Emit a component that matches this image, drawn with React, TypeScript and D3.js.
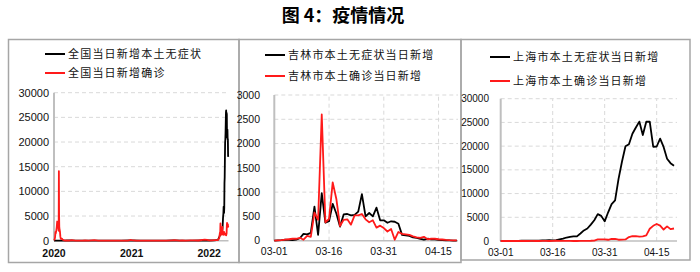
import React from "react";
import * as d3 from "d3";

// ---------- DATA ----------
const title = "图 4：疫情情况";

// Panel 1: national
const natLegend = ["全国当日新增本土无症状", "全国当日新增确诊"];
const natAsymDates = ["2020-01-20","2020-03-01","2020-04-01","2020-05-01","2020-06-15","2020-08-01","2020-10-01","2020-12-01","2021-01-15","2021-03-01","2021-05-01","2021-07-01","2021-08-05","2021-09-15","2021-11-01","2021-12-25","2022-01-20","2022-02-15","2022-03-01","2022-03-05","2022-03-10","2022-03-14","2022-03-18","2022-03-22","2022-03-24","2022-03-26","2022-03-28","2022-03-29","2022-03-31","2022-04-01","2022-04-02","2022-04-03","2022-04-04","2022-04-05","2022-04-06","2022-04-07","2022-04-08","2022-04-09","2022-04-10","2022-04-11","2022-04-12","2022-04-13","2022-04-14","2022-04-15","2022-04-16","2022-04-17","2022-04-18","2022-04-19","2022-04-20"];
const natAsymVals = [0,0,60,20,30,20,20,10,60,10,20,10,40,20,30,60,40,50,150,400,900,1400,2000,2000,2600,4500,5600,6900,5600,6700,11700,12800,16400,19800,20500,21800,23900,26000,26400,23500,25900,25600,20900,22300,22500,20500,20600,17200,17000];
const natConfDates = ["2020-01-20","2020-01-23","2020-01-25","2020-01-27","2020-01-28","2020-01-31","2020-02-02","2020-02-04","2020-02-06","2020-02-08","2020-02-10","2020-02-11","2020-02-12","2020-02-13","2020-02-14","2020-02-17","2020-02-19","2020-02-21","2020-02-26","2020-03-01","2020-03-05","2020-03-10","2020-03-20","2020-04-01","2020-04-12","2020-05-01","2020-06-01","2020-06-14","2020-07-01","2020-07-28","2020-08-15","2020-09-01","2020-10-01","2020-11-01","2020-12-01","2021-01-01","2021-01-13","2021-01-20","2021-02-10","2021-03-01","2021-04-01","2021-05-01","2021-06-01","2021-07-01","2021-07-31","2021-08-10","2021-09-01","2021-09-15","2021-10-01","2021-10-25","2021-11-10","2021-12-01","2021-12-20","2021-12-30","2022-01-10","2022-01-20","2022-02-01","2022-02-15","2022-03-01","2022-03-05","2022-03-08","2022-03-11","2022-03-13","2022-03-14","2022-03-15","2022-03-17","2022-03-19","2022-03-21","2022-03-23","2022-03-25","2022-03-28","2022-03-31","2022-04-02","2022-04-05","2022-04-08","2022-04-10","2022-04-12","2022-04-13","2022-04-14","2022-04-15","2022-04-16","2022-04-18","2022-04-19","2022-04-20"];
const natConfVals = [77,259,688,1771,1459,2102,2829,3887,3143,2656,2478,2015,14108,5090,2641,1886,820,397,433,202,143,24,40,35,108,10,5,50,5,100,20,5,20,30,10,20,140,100,10,5,20,10,20,5,70,100,10,50,10,50,60,40,150,200,150,80,60,120,120,300,450,1500,1800,3500,1800,1200,1600,1300,2800,1300,1200,1800,1400,1200,1400,1100,1500,2900,3600,3500,3300,3300,2800,3000];
const natXTicks = ["2020-01-20", "2021-01-20", "2022-01-20"];
const natXTickLabels = ["2020", "2021", "2022"];
const natYTicks = [0, 5000, 10000, 15000, 20000, 25000, 30000];

// Panels 2 & 3: daily from 03-01 to 04-20 (2022)
const dailyStart = "2022-03-01";
const dailyXTicks = ["2022-03-01", "2022-03-16", "2022-03-31", "2022-04-15"];
const dailyXTickLabels = ["03-01", "03-16", "03-31", "04-15"];

const jlLegend = ["吉林市本土无症状当日新增", "吉林市本土确诊当日新增"];
const jlAsym = [0,5,10,20,15,10,20,50,140,130,160,700,120,980,370,400,760,560,290,540,550,520,530,600,960,500,570,500,680,420,420,370,400,390,350,120,110,100,70,60,40,20,40,30,30,15,10,8,5,3,0];
const jlConf = [0,5,10,20,30,40,40,60,20,100,80,580,430,2600,380,450,1200,860,300,430,440,330,520,520,550,440,380,420,270,310,260,190,240,20,180,140,130,120,90,70,60,80,30,40,40,30,25,15,10,8,5];
const jlYTicks = [0, 500, 1000, 1500, 2000, 2500, 3000];

const shLegend = ["上海市本土无症状当日新增", "上海市本土确诊当日新增"];
const shAsym = [1,3,14,16,28,45,51,62,76,64,78,64,128,130,197,150,203,366,492,734,865,977,979,1580,2231,2631,3450,4381,5656,5298,4144,6051,7788,8581,13086,16766,19982,20398,22609,23937,25173,22348,25141,25146,19872,19923,21582,19831,17332,16407,15861];
const shConf = [1,0,2,3,0,3,4,3,4,11,5,1,41,9,5,8,57,8,17,24,31,4,4,29,38,45,50,96,326,355,358,260,438,425,268,311,322,824,1015,1006,914,994,1189,2573,3200,3590,3238,2417,3084,2494,2634];
const shYTicks = [0, 5000, 10000, 15000, 20000, 25000, 30000];

// ---------- HELPERS ----------
const parse = d3.timeParse("%Y-%m-%d");
const BLACK = "#000000";
const RED = "#ff1a1a";
const GRID = "#d9d9d9";
const AXIS = "#bfbfbf";
const NUMFONT = "'Liberation Sans', Arial, sans-serif";
const CJK = "'Noto Sans CJK SC', sans-serif";

type Pt = { d: Date; v: number };

function dailySeries(vals: number[]): Pt[] {
  const s = parse(dailyStart)!;
  return vals.map((v, i) => ({ d: d3.timeDay.offset(s, i), v }));
}
function pairSeries(dates: string[], vals: number[]): Pt[] {
  return dates.map((d, i) => ({ d: parse(d)!, v: vals[i] }));
}

type PanelProps = {
  x: d3.ScaleTime<number, number>;
  y: d3.ScaleLinear<number, number>;
  yTicks: number[];
  xTicks: string[];
  xTickLabels: string[];
  series: Pt[][];
  legend: string[];
  legendX: number;
  legendY: number[];
  yLabelRight: number;
  xLabelY: number;
  gridRight: number;
  vGrid: boolean;
  fontSize: number;
  xFontSize: number;
  xBold?: boolean;
};

function Panel(p: PanelProps) {
  const line = d3
    .line<Pt>()
    .x((d) => p.x(d.d))
    .y((d) => p.y(d.v));
  const x0 = p.x.range()[0];
  const y0 = p.y(0);
  const yTop = p.y(p.yTicks[p.yTicks.length - 1]);
  return (
    <g>
      {p.yTicks.slice(1).map((t) => (
        <line key={"h" + t} x1={x0} x2={p.gridRight} y1={p.y(t)} y2={p.y(t)} stroke={GRID} strokeWidth={1} strokeDasharray="4,3" />
      ))}
      {p.vGrid &&
        p.xTicks.slice(1).map((t) => (
          <line key={"v" + t} x1={p.x(parse(t)!)} x2={p.x(parse(t)!)} y1={y0} y2={yTop} stroke={GRID} strokeWidth={1} strokeDasharray="4,3" />
        ))}
      <line x1={x0} x2={p.gridRight} y1={y0} y2={y0} stroke={AXIS} strokeWidth={1.5} />
      <line x1={x0} x2={x0} y1={y0} y2={yTop} stroke={AXIS} strokeWidth={2} />
      {p.yTicks.map((t) => (
        <text key={"yl" + t} x={p.yLabelRight} y={p.y(t)} dy="0.35em" textAnchor="end" fontFamily={NUMFONT} fontSize={p.fontSize} fill="#111">
          {t}
        </text>
      ))}
      {p.xTicks.map((t, i) => (
        <text key={"xl" + t} x={p.x(parse(t)!)} y={p.xLabelY} textAnchor="middle" fontFamily={NUMFONT} fontSize={p.xFontSize} fontWeight={p.xBold ? "bold" : "normal"} fill="#111">
          {p.xTickLabels[i]}
        </text>
      ))}
      {p.series.map((s, i) => (
        <path key={"s" + i} d={line(s) || ""} fill="none" stroke={i === 0 ? BLACK : RED} strokeWidth={1.8} strokeLinejoin="round" />
      ))}
      {p.legend.map((t, i) => (
        <g key={"lg" + i}>
          <line x1={p.legendX} x2={p.legendX + 20} y1={p.legendY[i]} y2={p.legendY[i]} stroke={i === 0 ? BLACK : RED} strokeWidth={2} />
          <text x={p.legendX + 23} y={p.legendY[i]} dy="0.36em" fontFamily={CJK} fontSize={11} letterSpacing={1.2} fill="#111">
            {t}
          </text>
        </g>
      ))}
    </g>
  );
}

export default function App() {
  // Panel 1 scales
  const x1 = d3.scaleTime().domain([parse("2020-01-20")!, parse("2022-04-20")!]).range([54, 228.3]);
  const y1 = d3.scaleLinear().domain([0, 30000]).range([240.7, 92.7]);
  // Panel 2
  const x2 = d3.scaleTime().domain([parse("2022-03-01")!, parse("2022-04-20")!]).range([274.3, 456.8]);
  const y2 = d3.scaleLinear().domain([0, 3000]).range([240.7, 95]);
  // Panel 3
  const x3 = d3.scaleTime().domain([parse("2022-03-01")!, parse("2022-04-20")!]).range([500.7, 674]);
  const y3 = d3.scaleLinear().domain([0, 30000]).range([241, 98.7]);

  return (
    <svg width={700} height={272} style={{ position: "absolute", left: 0, top: 0, background: "#fff" }}>
      <rect x={0} y={0} width={700} height={272} fill="#fff" />
      <text x={343} y={22} textAnchor="middle" fontFamily={CJK} fontWeight="bold" fontSize={18} fill="#000">
        {title}
      </text>
      {/* frames */}
      <rect x={8.5} y={39.5} width={230.5} height={223} fill="none" stroke="#a6a6a6" strokeWidth={1.5} />
      <rect x={239} y={39.5} width={222} height={223} fill="none" stroke="#a6a6a6" strokeWidth={1.5} />
      <rect x={461} y={39.5} width={229} height={220.5} fill="none" stroke="#a6a6a6" strokeWidth={1.5} />

      <Panel
        x={x1}
        y={y1}
        yTicks={natYTicks}
        xTicks={natXTicks}
        xTickLabels={natXTickLabels}
        series={[pairSeries(natAsymDates, natAsymVals), pairSeries(natConfDates, natConfVals)]}
        legend={natLegend}
        legendX={45}
        legendY={[54, 73]}
        yLabelRight={49}
        xLabelY={257}
        gridRight={228.5}
        vGrid={false}
        fontSize={11}
        xFontSize={10.5}
        xBold={true}
      />
      <Panel
        x={x2}
        y={y2}
        yTicks={jlYTicks}
        xTicks={dailyXTicks}
        xTickLabels={dailyXTickLabels}
        series={[dailySeries(jlAsym), dailySeries(jlConf)]}
        legend={jlLegend}
        legendX={265}
        legendY={[55, 76]}
        yLabelRight={260}
        xLabelY={255}
        gridRight={458}
        vGrid={true}
        fontSize={10.5}
        xFontSize={10.5}
      />
      <Panel
        x={x3}
        y={y3}
        yTicks={shYTicks}
        xTicks={dailyXTicks}
        xTickLabels={dailyXTickLabels}
        series={[dailySeries(shAsym), dailySeries(shConf)]}
        legend={shLegend}
        legendX={490}
        legendY={[57, 81]}
        yLabelRight={489}
        xLabelY={256}
        gridRight={677}
        vGrid={true}
        fontSize={10}
        xFontSize={10}
      />
    </svg>
  );
}
